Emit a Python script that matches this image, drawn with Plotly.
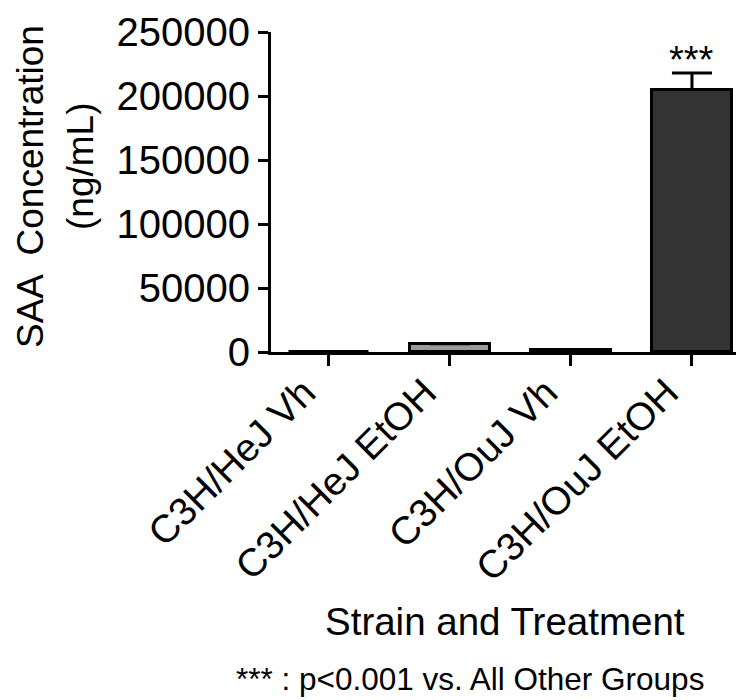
import plotly.graph_objects as go

categories = ["C3H/HeJ Vh", "C3H/HeJ EtOH", "C3H/OuJ Vh", "C3H/OuJ EtOH"]
saa_values = [300, 6500, 1500, 205000]
sem_plus = [0, 0, 0, 13000]
bar_colors = ["#ffffff", "#9a9a9a", "#111111", "#333333"]
y_ticks = [0, 50000, 100000, 150000, 200000, 250000]
sig_labels = ["", "", "", "***"]

FONT = "Liberation Sans, Arial, sans-serif"

# page body adds 8px offset; plot area target (screen): x 271..744, y 32..352
fig = go.Figure()
fig.add_trace(go.Bar(
    x=categories,
    y=saa_values,
    width=0.66,
    marker=dict(color=bar_colors, line=dict(color="black", width=3)),
    error_y=dict(type="data", symmetric=False, array=sem_plus,
                 arrayminus=[0] * len(sem_plus),
                 color="black", thickness=3, width=20, visible=True),
    showlegend=False,
))

for cat, v, e, s in zip(categories, saa_values, sem_plus, sig_labels):
    if s:
        fig.add_annotation(x=cat, y=v + e, text=s, showarrow=False,
                           yanchor="bottom", yshift=-10,
                           font=dict(family=FONT, size=38, color="black"))

fig.update_layout(
    width=736, height=692,
    margin=dict(l=263, r=0, t=24, b=348),
    paper_bgcolor="white", plot_bgcolor="white",
    font=dict(family=FONT, color="black"),
    bargap=0,
)
fig.update_xaxes(
    range=[-0.479, 3.43], automargin=False,
    showline=True, linecolor="black", linewidth=3,
    ticks="outside", ticklen=11, tickwidth=3, tickcolor="black",
    tickangle=-45, tickfont=dict(family=FONT, size=39, color="black"),
    ticklabelshift=-25, ticklabelstandoff=-12,
    showgrid=False, zeroline=False,
)
fig.update_yaxes(
    range=[0, 250000], automargin=False,
    tickvals=y_ticks, ticktext=[str(t) for t in y_ticks],
    showline=True, linecolor="black", linewidth=3,
    ticks="outside", ticklen=10, tickwidth=3, tickcolor="black",
    tickfont=dict(family=FONT, size=40, color="black"),
    showgrid=False, zeroline=False,
)

# axis titles and footnote (positions expressed in screen px relative to plot area)
def px_x(x):
    return (x - 271) / 473

def px_y(y):
    return (352 - y) / 320

fig.add_annotation(xref="paper", yref="paper", x=px_x(30), y=px_y(187),
                   text="SAA  Concentration", textangle=-90, showarrow=False,
                   xanchor="center", yanchor="middle",
                   font=dict(family=FONT, size=37, color="black"))
fig.add_annotation(xref="paper", yref="paper", x=px_x(80), y=px_y(167),
                   text="(ng/mL)", textangle=-90, showarrow=False,
                   xanchor="center", yanchor="middle",
                   font=dict(family=FONT, size=37, color="black"))
fig.add_annotation(xref="paper", yref="paper", x=px_x(505), y=px_y(621),
                   text="Strain and Treatment", showarrow=False,
                   xanchor="center", yanchor="middle",
                   font=dict(family=FONT, size=38.5, color="black"))
fig.add_annotation(xref="paper", yref="paper", x=px_x(470), y=px_y(679),
                   text="*** : p<0.001 vs. All Other Groups", showarrow=False,
                   xanchor="center", yanchor="middle",
                   font=dict(family=FONT, size=31.5, color="black"))

fig.write_html("out.html")
